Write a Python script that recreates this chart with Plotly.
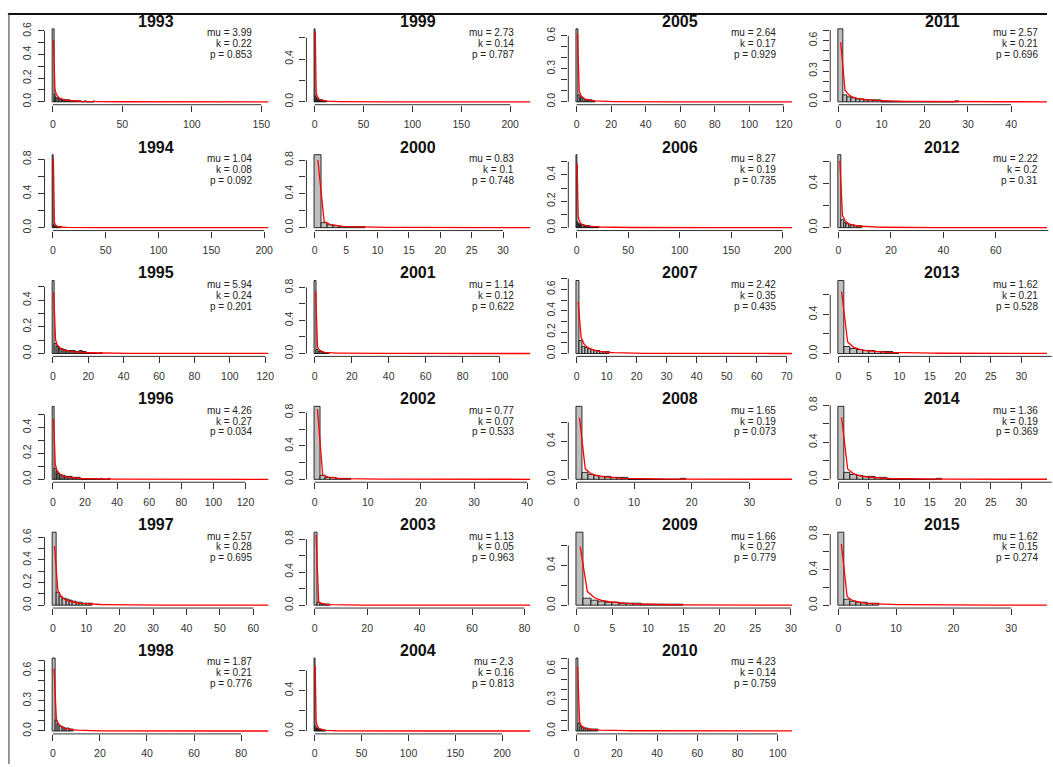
import numpy as np
import plotly.graph_objects as go
from math import lgamma, log, exp

W, H = 1053, 767

years = [1993, 1994, 1995, 1996, 1997, 1998,
         1999, 2000, 2001, 2002, 2003, 2004,
         2005, 2006, 2007, 2008, 2009, 2010,
         2011, 2012, 2013, 2014, 2015]
mu_vals = [3.99, 1.04, 5.94, 4.26, 2.57, 1.87,
           2.73, 0.83, 1.14, 0.77, 1.13, 2.3,
           2.64, 8.27, 2.42, 1.65, 1.66, 4.23,
           2.57, 2.22, 1.62, 1.36, 1.62]
k_vals = [0.22, 0.08, 0.24, 0.27, 0.28, 0.21,
          0.14, 0.1, 0.12, 0.07, 0.05, 0.16,
          0.17, 0.19, 0.35, 0.19, 0.27, 0.14,
          0.21, 0.2, 0.21, 0.19, 0.15]
p_vals = [0.853, 0.092, 0.201, 0.034, 0.695, 0.776,
          0.787, 0.748, 0.622, 0.533, 0.963, 0.813,
          0.929, 0.735, 0.435, 0.073, 0.779, 0.759,
          0.696, 0.31, 0.528, 0.369, 0.274]

# last histogram break (max count) per panel
x_max = [149, 196, 117, 129, 62, 88,
         212, 33, 112, 39, 79, 221,
         120, 201, 69, 36, 29, 103,
         48, 79, 34, 34, 36]
x_step = [50, 50, 20, 20, 10, 20,
          50, 5, 20, 10, 20, 50,
          20, 50, 10, 10, 5, 20,
          10, 20, 5, 5, 10]
y_step = [0.1, 0.2, 0.1, 0.1, 0.1, 0.1,
          0.2, 0.2, 0.2, 0.2, 0.2, 0.2,
          0.1, 0.1, 0.1, 0.2, 0.2, 0.1,
          0.1, 0.2, 0.2, 0.2, 0.2]
y_label_every = [2, 2, 2, 2, 2, 3,
                 2, 2, 2, 2, 2, 2,
                 3, 2, 2, 2, 2, 3,
                 3, 2, 2, 2, 2]

# histogram densities (unit-width bins starting at 0)
bars_1993 = [0.615, 0.062, 0.042, 0.032, 0.026, 0.022, 0.019, 0.016, 0.014, 0.012, 0.011, 0.010, 0.009, 0.008,
             0.007, 0.006, 0.006, 0.005, 0.004, 0.004, 0.003, 0, 0, 0.003, 0, 0, 0, 0, 0, 0.003]
bars_1994 = [0.85, 0.03, 0.018, 0.012, 0.009, 0.007, 0.005, 0.004]
bars_1995 = [0.545, 0.07, 0.05, 0.042, 0.036, 0.031, 0.028, 0.025, 0.022, 0.02, 0.018, 0.017, 0.016, 0.014,
             0.013, 0.02, 0.022, 0.011, 0.008, 0.006, 0, 0, 0, 0, 0, 0, 0, 0.006]
bars_1996 = [0.56, 0.085, 0.058, 0.046, 0.038, 0.032, 0.028, 0.025, 0.022, 0.02, 0.018, 0.016, 0.014, 0.012,
             0.011, 0.01, 0.009, 0.007, 0, 0, 0, 0, 0, 0, 0, 0, 0, 0, 0, 0, 0.004, 0, 0, 0, 0, 0.004]
bars_1997 = [0.643, 0.11, 0.08, 0.06, 0.046, 0.036, 0.029, 0.023, 0.019, 0.016, 0.013, 0.01]
bars_1998 = [0.72, 0.1, 0.062, 0.046, 0.036, 0.028, 0.021, 0.017, 0.013]
bars_1999 = [0.68, 0.05, 0.032, 0.024, 0.019, 0.015, 0.013, 0.011, 0.01, 0.009, 0.008, 0.007, 0.006]
bars_2000 = [0.86, 0.05, 0.026, 0.018, 0.012, 0.009, 0.007, 0.005]
bars_2001 = [0.88, 0.04, 0.02, 0.013, 0.009, 0.007, 0.005, 0.004]
bars_2002 = [0.87, 0.04, 0.02, 0.013, 0.009, 0.007, 0.005]
bars_2003 = [0.88, 0.03, 0.015, 0.01, 0.007, 0.005]
bars_2004 = [0.72, 0.05, 0.03, 0.022, 0.017, 0.013, 0.011, 0.009, 0.008, 0.007, 0.006, 0.005]
bars_2005 = [0.66, 0.06, 0.038, 0.028, 0.022, 0.018, 0.015, 0.012, 0.01, 0.009, 0.008]
bars_2006 = [0.55, 0.045, 0.03, 0.024, 0.02, 0.018, 0.016, 0.014, 0.013, 0.012, 0.011, 0.01, 0.009, 0.008,
             0.008, 0.007, 0.007, 0.006, 0.006, 0.005, 0.005, 0.004]
bars_2007 = [0.68, 0.115, 0.062, 0.05, 0.04, 0.034, 0.026, 0.021, 0.017, 0.014, 0.012]
bars_2008 = [0.766, 0.07, 0.045, 0.035, 0.028, 0.022, 0.018, 0.015, 0.012, 0, 0, 0, 0, 0, 0, 0, 0, 0, 0.006]
bars_2009 = [0.73, 0.066, 0.042, 0.034, 0.028, 0.022, 0.018, 0.015, 0.012, 0.01, 0.008, 0.007, 0.006, 0.005,
             0.006]
bars_2010 = [0.70, 0.07, 0.045, 0.033, 0.027, 0.022, 0.019, 0.016, 0.014, 0.012, 0.011]
bars_2011 = [0.71, 0.065, 0.045, 0.035, 0.028, 0.023, 0.019, 0.016, 0.013, 0.011, 0, 0, 0, 0, 0, 0, 0, 0,
             0, 0, 0, 0, 0, 0, 0, 0, 0, 0.004]
bars_2012 = [0.66, 0.07, 0.045, 0.034, 0.027, 0.022, 0.018, 0.015, 0.013]
bars_2013 = [0.745, 0.068, 0.044, 0.035, 0.029, 0.024, 0.019, 0.015, 0.012, 0.01]
bars_2014 = [0.785, 0.07, 0.05, 0.04, 0.03, 0.025, 0.02, 0.016, 0, 0, 0, 0, 0, 0, 0, 0, 0.006]
bars_2015 = [0.82, 0.06, 0.04, 0.03, 0.024, 0.019, 0.015]

all_bars = [bars_1993, bars_1994, bars_1995, bars_1996, bars_1997, bars_1998,
            bars_1999, bars_2000, bars_2001, bars_2002, bars_2003, bars_2004,
            bars_2005, bars_2006, bars_2007, bars_2008, bars_2009, bars_2010,
            bars_2011, bars_2012, bars_2013, bars_2014, bars_2015]


def nb_pmf(x, mu, k):
    # fitted negative binomial (size k, mean mu) shown as the red line
    return exp(lgamma(x + k) - lgamma(k) - lgamma(x + 1)
               + k * log(k / (k + mu)) + x * log(mu / (k + mu)))


FONT = "Liberation Sans, Arial, Helvetica, sans-serif"
AX = "#333333"
TICK_FS = 10.5

# layout geometry (pixels)
COL_LEFT = 44.8
COL_STEP = 263.4
PW = 225.0
ROW_BOTTOM = 99.0
ROW_STEP = 127.5
PH = 79.5

fig = go.Figure()
shapes = []
annotations = []

for i, yr in enumerate(years):
    col, row = i // 6, i % 6
    n = i + 1
    xa = "x" if n == 1 else f"x{n}"
    ya = "y" if n == 1 else f"y{n}"

    left = COL_LEFT + col * COL_STEP
    right_full = left + PW
    right = min(right_full, W)
    bottom = ROW_BOTTOM + row * ROW_STEP
    top = bottom - PH

    R = x_max[i]
    xr0 = -0.04 * R
    xr1_full = 1.04 * R
    xr1 = xr0 + (xr1_full - xr0) * (right - left) / PW

    bars = all_bars[i]
    ymax = max(bars)
    yr0, yr1 = -0.04 * ymax, 1.04 * ymax

    dx0, dx1 = left / W, right / W
    dy0, dy1 = 1 - bottom / H, 1 - top / H

    xt_all = list(np.arange(0, xr1_full + 1e-9, x_step[i]))
    xt = [v for v in xt_all if v <= xr1]
    yt = list(np.round(np.arange(0, yr1 + 1e-9, y_step[i]), 2))
    ytxt = [f"{v:.1f}" if j % y_label_every[i] == 0 else "" for j, v in enumerate(yt)]

    centers = [b + 0.5 for b in range(len(bars))]
    fig.add_trace(go.Bar(x=centers, y=bars, width=1.0,
                         marker=dict(color="#BEBEBE", line=dict(color="black", width=0.8)),
                         xaxis=xa, yaxis=ya, showlegend=False, hoverinfo="skip"))

    xs = np.arange(0, int(1.15 * R) + 2)
    fig.add_trace(go.Scatter(x=xs + 0.5, y=[nb_pmf(v, mu_vals[i], k_vals[i]) for v in xs],
                             mode="lines", line=dict(color="#FF0000", width=1.3),
                             xaxis=xa, yaxis=ya, showlegend=False, hoverinfo="skip"))

    fig.layout[("xaxis" if n == 1 else f"xaxis{n}")] = dict(
        domain=[dx0, dx1], range=[xr0, xr1], anchor=ya,
        tickvals=xt, ticktext=[str(int(v)) for v in xt],
        ticks="outside", ticklen=6, tickwidth=1, tickcolor=AX,
        showline=False, showgrid=False, zeroline=False,
        tickfont=dict(family=FONT, size=TICK_FS, color=AX), ticklabelstandoff=4)
    fig.layout[("yaxis" if n == 1 else f"yaxis{n}")] = dict(
        domain=[dy0, dy1], range=[yr0, yr1], anchor=xa,
        tickvals=yt, ticktext=ytxt, tickangle=-90,
        ticks="outside", ticklen=6, tickwidth=1, tickcolor=AX,
        showline=False, showgrid=False, zeroline=False,
        tickfont=dict(family=FONT, size=TICK_FS, color=AX), ticklabelstandoff=2)

    def px_x(v):
        return dx0 + (v - xr0) / (xr1 - xr0) * (dx1 - dx0)

    def py_y(v):
        return dy0 + (v - yr0) / (yr1 - yr0) * (dy1 - dy0)

    # R-style axis lines spanning first to last tick
    shapes.append(dict(type="line", xref="paper", yref="paper",
                       x0=px_x(xt_all[0]), x1=px_x(xt_all[-1]), y0=dy0, y1=dy0,
                       line=dict(color=AX, width=1)))
    shapes.append(dict(type="line", xref="paper", yref="paper",
                       x0=dx0, x1=dx0, y0=py_y(yt[0]), y1=py_y(yt[-1]),
                       line=dict(color=AX, width=1)))

    # title
    annotations.append(dict(text=f"<b>{yr}</b>", xref="paper", yref="paper",
                            x=(left + PW / 2) / W, y=1 - (bottom - 84.5) / H,
                            xanchor="center", yanchor="middle", showarrow=False,
                            font=dict(family=FONT, size=16, color="#111111")))
    # stats
    for j, txt in enumerate([f"mu = {mu_vals[i]}", f"k = {k_vals[i]}", f"p = {p_vals[i]}"]):
        annotations.append(dict(text=txt, xref="paper", yref="paper",
                                x=(right_full - 14) / W, y=1 - (bottom - 73 + 11 * j) / H,
                                xanchor="right", yanchor="middle", showarrow=False,
                                font=dict(family=FONT, size=10, color="#222222")))

# frame remnants of the original screenshot
shapes.append(dict(type="rect", xref="paper", yref="paper", x0=0, x1=1, y0=1 - 6 / H, y1=1,
                   fillcolor="white", line=dict(width=0), layer="above"))
shapes.append(dict(type="line", xref="paper", yref="paper", x0=8 / W, x1=1, y0=1 - 7 / H, y1=1 - 7 / H,
                   line=dict(color="#111111", width=2), layer="above"))
shapes.append(dict(type="line", xref="paper", yref="paper", x0=9 / W, x1=9 / W, y0=0, y1=1 - 7 / H,
                   line=dict(color="#555555", width=1.2), layer="above"))

fig.update_layout(width=W, height=H, margin=dict(l=0, r=0, t=0, b=0),
                  paper_bgcolor="white", plot_bgcolor="white",
                  shapes=shapes, annotations=annotations, bargap=0,
                  font=dict(family=FONT))

fig.write_html("out.html")
